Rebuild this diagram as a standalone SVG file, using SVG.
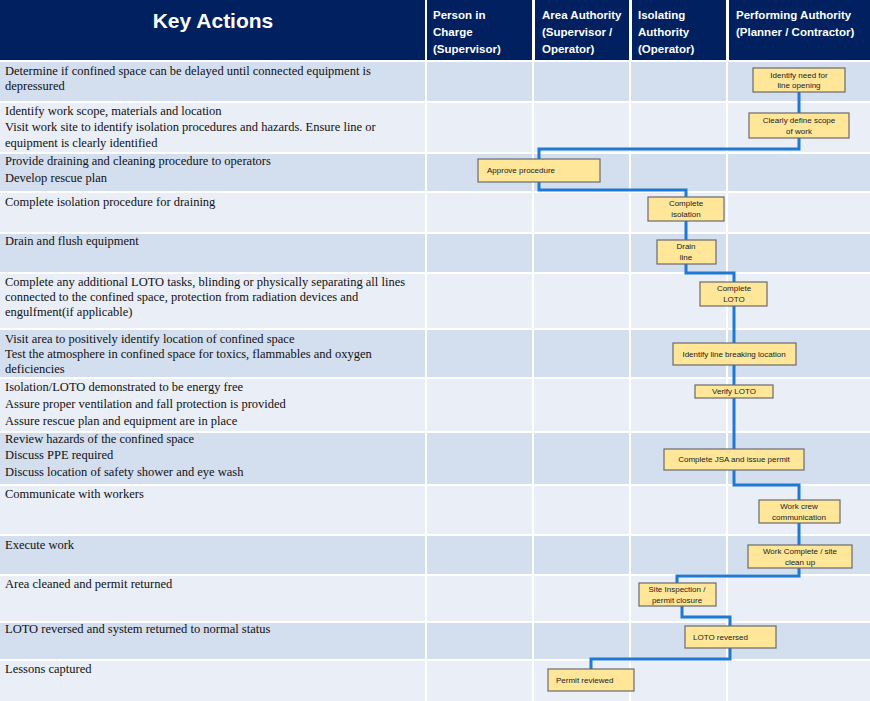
<svg xmlns="http://www.w3.org/2000/svg" width="870" height="701" viewBox="0 0 870 701">
<style>
.hd{fill:#002060}
.a{fill:#d3deef}.b{fill:#e9eef7}
.ht{font-family:"Liberation Sans",Arial,sans-serif;font-weight:bold;fill:#fff;font-size:11.5px}
.t{font-family:"Liberation Serif","Times New Roman",serif;font-size:12.5px;fill:#111}
.bx rect{fill:#ffe699;stroke:#6b6b6b;stroke-width:1.2}
.bx text{font-family:"Liberation Sans",Arial,sans-serif;font-size:8px;fill:#222;text-anchor:middle}
.c path{fill:none;stroke:#1f78d1;stroke-width:3}
.g{stroke:#fff;stroke-width:2}
</style>
<rect width="870" height="701" fill="#fff"/>
<g id="header">
<rect class="hd" x="0" y="0" width="425" height="60"/>
<rect class="hd" x="427" y="0" width="105" height="60"/>
<rect class="hd" x="535" y="0" width="94" height="60"/>
<rect class="hd" x="632" y="0" width="94" height="60"/>
<rect class="hd" x="729" y="0" width="141" height="60"/>
<text x="213" y="28" text-anchor="middle" font-family="Liberation Sans,Arial,sans-serif" font-weight="bold" font-size="21" fill="#fff">Key Actions</text>
<text class="ht" x="433" y="19">Person in</text><text class="ht" x="433" y="36">Charge</text><text class="ht" x="433" y="53">(Supervisor)</text>
<text class="ht" x="542" y="19">Area Authority</text><text class="ht" x="542" y="36">(Supervisor /</text><text class="ht" x="542" y="53">Operator)</text>
<text class="ht" x="638" y="19">Isolating</text><text class="ht" x="638" y="36">Authority</text><text class="ht" x="638" y="53">(Operator)</text>
<text class="ht" x="736" y="19">Performing Authority</text><text class="ht" x="736" y="36">(Planner / Contractor)</text>
</g>
<g id="rows">
<rect class="a" x="0" y="62" width="870" height="40"/>
<rect class="b" x="0" y="102" width="870" height="51"/>
<rect class="a" x="0" y="153" width="870" height="39"/>
<rect class="b" x="0" y="192" width="870" height="41"/>
<rect class="a" x="0" y="233" width="870" height="40"/>
<rect class="b" x="0" y="273" width="870" height="56"/>
<rect class="a" x="0" y="329" width="870" height="49"/>
<rect class="b" x="0" y="378" width="870" height="54"/>
<rect class="a" x="0" y="432" width="870" height="53"/>
<rect class="b" x="0" y="485" width="870" height="50"/>
<rect class="a" x="0" y="535" width="870" height="40"/>
<rect class="b" x="0" y="575" width="870" height="47"/>
<rect class="a" x="0" y="622" width="870" height="38"/>
<rect class="b" x="0" y="660" width="870" height="41"/>
<g class="g">
<line x1="0" y1="102" x2="870" y2="102"/><line x1="0" y1="153" x2="870" y2="153"/><line x1="0" y1="192" x2="870" y2="192"/><line x1="0" y1="233" x2="870" y2="233"/><line x1="0" y1="273" x2="870" y2="273"/><line x1="0" y1="329" x2="870" y2="329"/><line x1="0" y1="378" x2="870" y2="378"/><line x1="0" y1="432" x2="870" y2="432"/><line x1="0" y1="485" x2="870" y2="485"/><line x1="0" y1="535" x2="870" y2="535"/><line x1="0" y1="575" x2="870" y2="575"/><line x1="0" y1="622" x2="870" y2="622"/><line x1="0" y1="660" x2="870" y2="660"/>
<line x1="426" y1="61" x2="426" y2="701"/><line x1="533" y1="61" x2="533" y2="701"/><line x1="630" y1="61" x2="630" y2="701"/><line x1="727" y1="61" x2="727" y2="701"/>
</g>
<text class="t" x="5" y="75">Determine if confined space can be delayed until connected equipment is</text>
<text class="t" x="5" y="90">depressured</text>
<text class="t" x="5" y="115">Identify work scope, materials and location</text>
<text class="t" x="5" y="131">Visit work site to identify isolation procedures and hazards. Ensure line or</text>
<text class="t" x="5" y="147">equipment is clearly identified</text>
<text class="t" x="5" y="165">Provide draining and cleaning procedure to operators</text>
<text class="t" x="5" y="182">Develop rescue plan</text>
<text class="t" x="5" y="206">Complete isolation procedure for draining</text>
<text class="t" x="5" y="245">Drain  and  flush equipment</text>
<text class="t" x="5" y="286">Complete any additional LOTO tasks, blinding or physically separating all lines</text>
<text class="t" x="5" y="301">connected to the confined space, protection from radiation devices and</text>
<text class="t" x="5" y="316">engulfment(if applicable)</text>
<text class="t" x="5" y="343">Visit area to positively identify location of confined space</text>
<text class="t" x="5" y="358">Test the atmosphere in confined space for toxics, flammables and oxygen</text>
<text class="t" x="5" y="373">deficiencies</text>
<text class="t" x="5" y="391">Isolation/LOTO demonstrated to be energy free</text>
<text class="t" x="5" y="408">Assure proper ventilation and fall protection is provided</text>
<text class="t" x="5" y="425">Assure rescue plan and equipment are in place</text>
<text class="t" x="5" y="443">Review hazards  of the confined space</text>
<text class="t" x="5" y="459">Discuss PPE required</text>
<text class="t" x="5" y="476">Discuss location of safety shower and eye wash</text>
<text class="t" x="5" y="498">Communicate with workers</text>
<text class="t" x="5" y="549">Execute work</text>
<text class="t" x="5" y="588">Area cleaned and permit returned</text>
<text class="t" x="5" y="633">LOTO reversed and system returned to normal status</text>
<text class="t" x="5" y="673">Lessons captured</text>
</g>
<g id="connectors" class="c">
<path d="M799 92V113"/>
<path d="M799 138V149H539V159"/>
<path d="M539 182V190H686V197"/>
<path d="M686 221V240"/>
<path d="M686 264V273H734V282"/>
<path d="M734 306V343"/>
<path d="M734 365V385"/>
<path d="M734 398V449"/>
<path d="M734 470V485H799V500"/>
<path d="M799 523V545"/>
<path d="M799 568V576H677V583"/>
<path d="M682 606V617H730V626"/>
<path d="M730 648V659H591V669"/>
</g>
<g id="n1" class="bx"><rect x="753" y="68" width="92" height="24"/><text x="799" y="78">Identify need for</text><text x="799" y="88">line opening</text></g>
<g id="n2" class="bx"><rect x="749" y="113" width="100" height="25"/><text x="799" y="123">Clearly define scope</text><text x="799" y="134">of work</text></g>
<g id="n3" class="bx"><rect x="478" y="159" width="122" height="23"/><text x="487" y="173" style="text-anchor:start">Approve procedure</text></g>
<g id="n4" class="bx"><rect x="648" y="197" width="76" height="24"/><text x="686" y="206">Complete</text><text x="686" y="217">isolation</text></g>
<g id="n5" class="bx"><rect x="657" y="240" width="59" height="24"/><text x="686" y="249">Drain</text><text x="686" y="260">line</text></g>
<g id="n6" class="bx"><rect x="700" y="282" width="67" height="24"/><text x="734" y="291">Complete</text><text x="734" y="302">LOTO</text></g>
<g id="n7" class="bx"><rect x="673" y="343" width="123" height="22"/><text x="734" y="357">Identify line breaking location</text></g>
<g id="n8" class="bx"><rect x="695" y="385" width="78" height="13"/><text x="734" y="394">Verify LOTO</text></g>
<g id="n9" class="bx"><rect x="664" y="449" width="140" height="21"/><text x="734" y="462">Complete JSA and issue permit</text></g>
<g id="n10" class="bx"><rect x="759" y="500" width="81" height="23"/><text x="799" y="509">Work crew</text><text x="799" y="520">communication</text></g>
<g id="n11" class="bx"><rect x="748" y="545" width="104" height="23"/><text x="800" y="554">Work Complete / site</text><text x="800" y="565">clean up</text></g>
<g id="n12" class="bx"><rect x="639" y="583" width="77" height="23"/><text x="677" y="592">Site Inspection /</text><text x="677" y="603">permit closure</text></g>
<g id="n13" class="bx"><rect x="685" y="626" width="91" height="22"/><text x="693" y="640" style="text-anchor:start">LOTO reversed</text></g>
<g id="n14" class="bx"><rect x="548" y="669" width="86" height="22"/><text x="556" y="683" style="text-anchor:start">Permit reviewed</text></g>
</svg>
